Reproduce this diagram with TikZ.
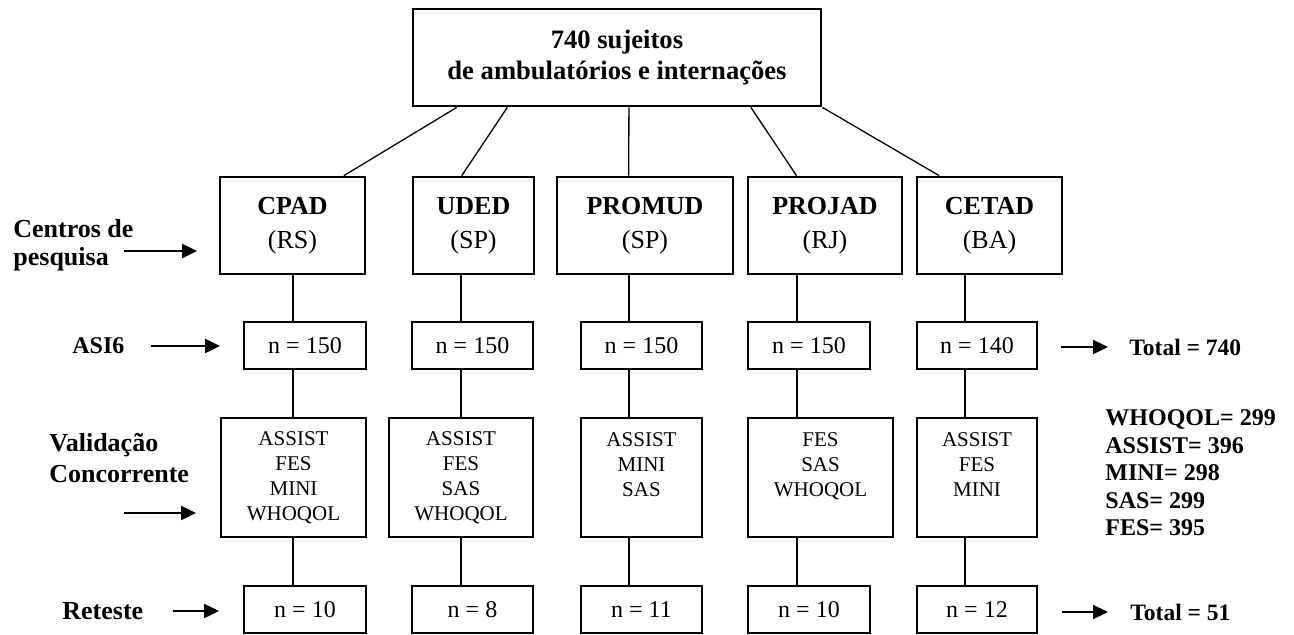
\documentclass[tikz,border=0pt]{standalone}
\usepackage{fontspec}
\setmainfont{Liberation Serif}
\usetikzlibrary{arrows.meta}
\usetikzlibrary{calc}

\begin{document}
\begin{tikzpicture}[x=0.5pt,y=-0.5pt]
\tikzset{caixa/.style={rectangle,draw,line width=1.35pt,inner sep=0pt,align=center},
centro/.style={caixa,minimum height=48.5pt,font=\fontsize{13}{17}\selectfont},
amostra/.style={caixa,minimum height=23.5pt,font=\fontsize{12}{14}\selectfont},
escalas/.style={caixa,minimum height=59.5pt,font=\fontsize{10.5}{12.5}\selectfont},
rotulo/.style={align=left,inner sep=0pt,anchor=west,font=\bfseries\fontsize{13}{14}\selectfont},
seta/.style={line width=1.1pt,-{Triangle[length=7.5pt,width=7pt]}},
liga/.style={line width=0.65pt}}
\useasboundingbox (0,0) rectangle (1294,635);
% topo
\node[caixa,minimum width=204pt,minimum height=48.5pt,font=\bfseries\fontsize{13.3}{15.5}\selectfont](topo) at (617,57.5){740 sujeitos\\de ambulatórios e internações};
% centros de pesquisa
\node[centro,minimum width=72.5pt](cpad) at (292.5,225.5){\textbf{CPAD}\\(RS)};
\node[centro,minimum width=60.5pt](uded) at (473.5,225.5){\textbf{UDED}\\(SP)};
\node[centro,minimum width=88pt](promud) at (645,225.5){\textbf{PROMUD}\\(SP)};
\node[centro,minimum width=77pt](projad) at (825,225.5){\textbf{PROJAD}\\(RJ)};
\node[centro,minimum width=72.5pt](cetad) at (989.5,225.5){\textbf{CETAD}\\(BA)};
% ASI6
\node[amostra,minimum width=61pt](asi1) at (305,345.5){n = 150};
\node[amostra,minimum width=60.5pt](asi2) at (472.5,345.5){n = 150};
\node[amostra,minimum width=60.5pt](asi3) at (641.5,345.5){n = 150};
\node[amostra,minimum width=61pt](asi4) at (809,345.5){n = 150};
\node[amostra,minimum width=60pt](asi5) at (977,345.5){n = 140};
% validacao
\node[escalas,minimum width=72.5pt](val1) at (293.5,477.5){ASSIST\\FES\\MINI\\WHOQOL};
\node[escalas,minimum width=72pt](val2) at (461,477.5){ASSIST\\FES\\SAS\\WHOQOL};
\node[escalas,minimum width=60.5pt](val3) at (641.5,477.5){ASSIST\\MINI\\SAS\\~};
\node[escalas,minimum width=72.5pt](val4) at (820.5,477.5){FES\\SAS\\WHOQOL\\~};
\node[escalas,minimum width=60pt](val5) at (977,477.5){ASSIST\\FES\\MINI\\~};
% reteste
\node[amostra,minimum width=61pt](ret1) at (305,609.5){n = 10};
\node[amostra,minimum width=60.5pt](ret2) at (472.5,609.5){n = 8};
\node[amostra,minimum width=60.5pt](ret3) at (641.5,609.5){n = 11};
\node[amostra,minimum width=61pt](ret4) at (809,609.5){n = 10};
\node[amostra,minimum width=60pt](ret5) at (977,609.5){n = 12};
% rotulos
\node[rotulo](centros) at (13,245){Centros de\\pesquisa};
\node[rotulo,font=\bfseries\fontsize{12}{14}\selectfont](asi) at (72,346){ASI6};
\node[rotulo,font=\bfseries\fontsize{13}{15.5}\selectfont](valid) at (49,458){Validação\\Concorrente};
\node[rotulo](retes) at (62,611){Reteste};
\node[rotulo,font=\bfseries\fontsize{11.75}{14}\selectfont](tot1) at (1129,347){Total = 740};
\node[rotulo,font=\bfseries\fontsize{11.75}{14}\selectfont](tot2) at (1130,612){Total = 51};
\node[rotulo,font=\bfseries\fontsize{12}{13.75}\selectfont](lista) at (1105,473){WHOQOL= 299\\ASSIST= 396\\MINI= 298\\SAS= 299\\FES= 395};
% ligacoes do topo
\draw[liga] ($(topo.south west)!.110!(topo.south east)$) -- ($(cpad.north west)!.848!(cpad.north east)$);
\draw[liga] ($(topo.south west)!.233!(topo.south east)$) -- ($(uded.north west)!.405!(uded.north east)$);
\draw[liga] ($(topo.south west)!.529!(topo.south east)$) -- ($(promud.north west)!.409!(promud.north east)$);
\draw[liga] ($(topo.south west)!.826!(topo.south east)$) -- ($(projad.north west)!.318!(projad.north east)$);
\draw[liga] (topo.south east) -- ($(cetad.north west)!.159!(cetad.north east)$);
% colunas
\foreach \c/\x in {1/293,2/461,3/629,4/797,5/965}
  \coordinate (k\c) at (\x,0);
\foreach \a/\c in {cpad/1,uded/2,promud/3,projad/4,cetad/5}{
  \draw[liga] (\a.south -| k\c) -- (asi\c.north -| k\c);
  \draw[liga] (asi\c.south -| k\c) -- (val\c.north -| k\c);
  \draw[liga] (val\c.south -| k\c) -- (ret\c.north -| k\c);
}
% setas
\coordinate (c0) at (124,251);
\coordinate (v0) at (124,513);
\draw[seta,shorten >=10.8pt] (c0) -- (c0 -| cpad.west);
\draw[seta] ([xshift=13pt]asi.east) -- ([xshift=-11.3pt]asi.east -| asi1.west);
\draw[seta,shorten >=11.8pt] (v0) -- (v0 -| val1.west);
\draw[seta] ([xshift=14.5pt]retes.east) -- ([xshift=-11.8pt]retes.east -| ret1.west);
\draw[seta] ([xshift=11.3pt]tot1.west -| asi5.east) -- ([xshift=-10.5pt]tot1.west);
\draw[seta] ([xshift=11.8pt]tot2.west -| ret5.east) -- ([xshift=-11pt]tot2.west);
\end{tikzpicture}
\end{document}
